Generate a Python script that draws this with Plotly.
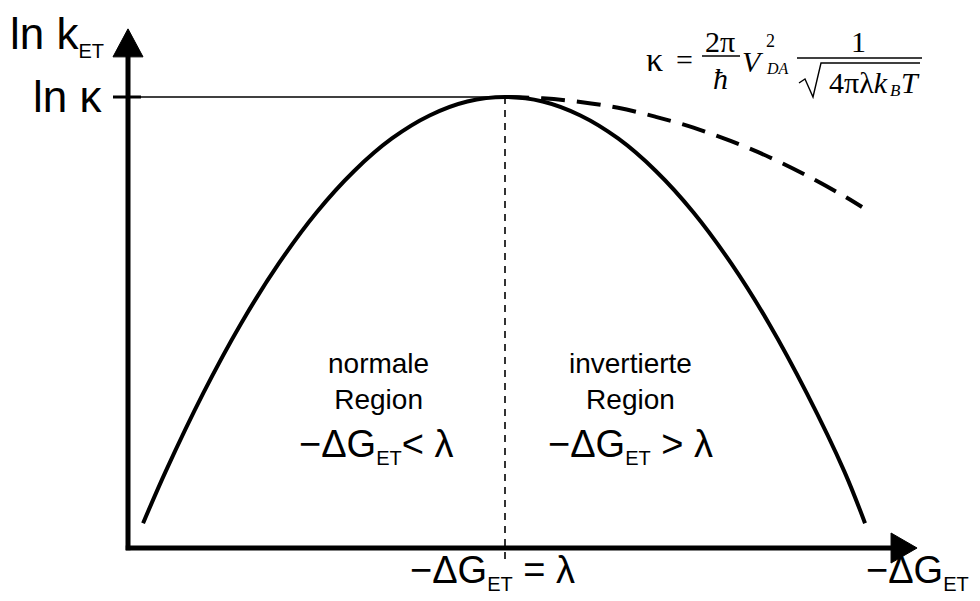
import plotly.graph_objects as go

# ----------- data ---------------------------------
# x: -dG_ET in units of lambda, y: ln k_ET in units of ln kappa
lam = 1.0
ln_kappa = 1.0

marcus_x = [0.04, 0.1, 0.2, 0.3, 0.4, 0.5, 0.6, 0.7, 0.8, 0.9, 1.0,
            1.1, 1.2, 1.3, 1.4, 1.5, 1.6, 1.7, 1.8, 1.9, 1.955]
marcus_y = [0.055, 0.17, 0.344, 0.498, 0.631, 0.744, 0.836, 0.908, 0.959, 0.99, 1.0,
            0.99, 0.959, 0.908, 0.836, 0.744, 0.631, 0.498, 0.344, 0.17, 0.055]

dashed_x = [1.0, 1.1, 1.2, 1.3, 1.4, 1.5, 1.6, 1.7, 1.8, 1.9, 1.947]
dashed_y = [1.0, 0.997, 0.989, 0.976, 0.956, 0.932, 0.902, 0.867, 0.826, 0.78, 0.756]

x_axis_end = 2.03
y_axis_end = 1.095
# -------------------------------------------------

# the page puts the figure 8px in from the window corner
OFF = 8
W, H = 980 - OFF, 601 - OFF
X0, Y0 = 128 - OFF, 548 - OFF   # origin inside the figure
SX, SY = 377, 451               # pixels per unit


def px(x):  # window pixel -> paper
    return (x - OFF) / W


def py(y):
    return 1 - (y - OFF) / H


fig = go.Figure()

fig.add_trace(go.Scatter(x=marcus_x, y=marcus_y, mode='lines', line_shape='spline',
                         line=dict(color='black', width=4), hoverinfo='skip'))
fig.add_trace(go.Scatter(x=dashed_x, y=dashed_y, mode='lines', line_shape='spline',
                         line=dict(color='black', width=4, dash='24px,12px'), hoverinfo='skip'))

shapes = []
# axes
shapes.append(dict(type='line', x0=-0.006, y0=0, x1=x_axis_end, y1=0, line=dict(color='black', width=5)))
shapes.append(dict(type='line', x0=0, y0=-0.005, x1=0, y1=y_axis_end, line=dict(color='black', width=5)))
# arrow heads
ah_len_x, ah_half_y = 26 / SX, 15 / SY
bx = x_axis_end - 0.006
shapes.append(dict(type='path', path=f"M {bx} {-ah_half_y} L {bx + ah_len_x} 0 L {bx} {ah_half_y} Z",
                   fillcolor='black', line=dict(color='black', width=1)))
ah_len_y, ah_half_x = 28 / SY, 15 / SX
by = y_axis_end - 0.006
shapes.append(dict(type='path', path=f"M {-ah_half_x} {by} L 0 {by + ah_len_y} L {ah_half_x} {by} Z",
                   fillcolor='black', line=dict(color='black', width=1)))
# ln kappa level line and tick
shapes.append(dict(type='line', x0=0, y0=ln_kappa, x1=lam, y1=ln_kappa, line=dict(color='black', width=1.3)))
shapes.append(dict(type='line', x0=-15 / SX, y0=ln_kappa, x1=13 / SX, y1=ln_kappa, line=dict(color='black', width=3)))
# lambda dashed vertical
shapes.append(dict(type='line', x0=lam, y0=ln_kappa, x1=lam, y1=-14 / SY,
                   line=dict(color='black', width=1.6, dash='7px,6px')))
# fraction bars and root sign of the formula
shapes.append(dict(type='line', xref='paper', yref='paper', x0=px(702), x1=px(740), y0=py(56), y1=py(56),
                   line=dict(color='black', width=1.3)))
shapes.append(dict(type='line', xref='paper', yref='paper', x0=px(797), x1=px(922), y0=py(58), y1=py(58),
                   line=dict(color='black', width=1.3)))
root_pts = [(799, 83), (805, 79), (813, 97), (821, 63), (920, 63)]
shapes.append(dict(type='path', xref='paper', yref='paper',
                   path='M ' + ' L '.join(f"{px(a)} {py(b)}" for a, b in root_pts),
                   line=dict(color='black', width=1.4)))

SANS = 'Liberation Sans, Arial, sans-serif'
SERIF = 'Liberation Serif, Times New Roman, serif'


def label(text, x, y, size, xanchor='center', family=SANS):
    return dict(text=text, xref='paper', yref='paper', x=px(x), y=py(y), xanchor=xanchor, yanchor='middle',
                showarrow=False, font=dict(family=family, size=size, color='black'))


sub = '<sub><span style="font-size:20px">ET</span></sub>'
ann = [
    label('ln k' + sub, 8, 36, 44, 'left'),
    label('ln κ', 104, 96, 44, 'right'),
    label('−ΔG' + sub + ' = λ', 408, 572, 38, 'left'),
    label('−ΔG' + sub, 864, 572, 38, 'left'),
    label('normale<br>Region', 378, 381, 28),
    label('invertierte<br>Region', 630, 381, 28),
    label('−ΔG' + sub + '< λ', 376, 446, 38),
    label('−ΔG' + sub + ' > λ', 630, 446, 38),
    # formula
    label('κ', 654, 59, 34, family=SERIF),
    label('=', 684, 59, 30, family=SERIF),
    label('2π', 720, 41, 30, family=SERIF),
    label('<i>ħ</i>', 720, 78, 30, family=SERIF),
    label('<i>V</i>', 753, 62, 30, family=SERIF),
    label('2', 770, 41, 18, family=SERIF),
    label('<i>DA</i>', 777, 68, 16, family=SERIF),
    label('1', 858, 41, 30, family=SERIF),
    label('4πλ<i>k</i>', 858, 82, 30, family=SERIF),
    label('<i>B</i>', 895, 90, 17, family=SERIF),
    label('<i>T</i>', 910, 82, 30, family=SERIF),
]

fig.update_layout(
    width=W, height=H,
    margin=dict(l=0, r=0, t=0, b=0),
    paper_bgcolor='white', plot_bgcolor='white',
    showlegend=False,
    xaxis=dict(range=[-X0 / SX, (W - X0) / SX], visible=False, fixedrange=True),
    yaxis=dict(range=[(Y0 - H) / SY, Y0 / SY], visible=False, fixedrange=True),
    shapes=shapes,
    annotations=ann,
)

fig.write_html("out.html")
